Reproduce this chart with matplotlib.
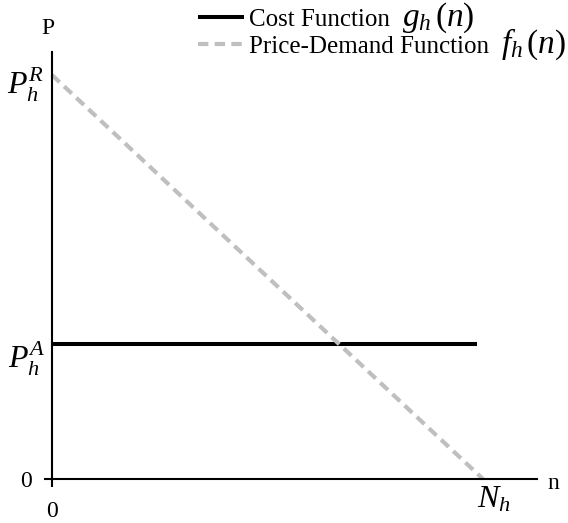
import matplotlib
matplotlib.use("Agg")
import matplotlib.pyplot as plt
from matplotlib.transforms import IdentityTransform

# ---- data ----
demand_n = [0.0, 1.0]      # from n = 0 to N_h
demand_p = [1.0, 0.0]      # from P_h^R down to 0
cost_n = [0.0, 0.986]
cost_p = [0.334, 0.334]    # P_h^A
n_axis_end = 1.125
p_axis_end = 1.057
legend_text = ['Cost Function', 'Price-Demand Function']
legend_math = [r'$g_h\,(n)$', r'$f_h\,(n)$']

plt.rcParams['font.family'] = ['Liberation Serif', 'DejaVu Serif']
plt.rcParams['mathtext.fontset'] = 'custom'
plt.rcParams['mathtext.rm'] = 'Liberation Serif'
plt.rcParams['mathtext.it'] = 'Liberation Serif:italic'

fig = plt.figure(figsize=(5.68, 5.23), dpi=100)
ax = fig.add_axes([0, 0, 1, 1])
ax.set_xlim(-52 / 431, 516 / 431)
ax.set_ylim(-44 / 404, 479 / 404)

cost_line, = ax.plot(cost_n, cost_p, color='black', lw=2.9, solid_capstyle='butt',
                     label=legend_text[0])
dem_line, = ax.plot(demand_n, demand_p, color='#BFBFBF', lw=3.0, dashes=(2.5, 1.5),
                    label=legend_text[1])

for s in ['top', 'right']:
    ax.spines[s].set_visible(False)
ax.spines['left'].set_position(('data', 0))
ax.spines['bottom'].set_position(('data', 0))
ax.spines['left'].set_bounds(0, p_axis_end)
ax.spines['bottom'].set_bounds(0, n_axis_end)
ax.spines['left'].set_linewidth(1.5)
ax.spines['bottom'].set_linewidth(1.5)

ax.set_xticks([0])
ax.set_yticks([0])
ax.set_xticklabels(['0'])
ax.set_yticklabels(['0'])
ax.tick_params(axis='both', which='major', direction='out', length=5.5, width=1.5,
               labelsize=17, left=True, bottom=True, color='black')
ax.tick_params(axis='y', pad=9)
ax.tick_params(axis='x', pad=10)

ax.annotate('P', xy=(0, p_axis_end), xytext=(-3, 17), textcoords='offset points',
            ha='center', va='center', fontsize=17)
ax.annotate('n', xy=(n_axis_end, 0), xytext=(12, -3), textcoords='offset points',
            ha='center', va='center', fontsize=17)
ax.annotate(r'$P_h^R$', xy=(0, demand_p[0]), xytext=(-6, -7), textcoords='offset points',
            ha='right', va='center', fontsize=23)
ax.annotate(r'$P_h^A$', xy=(0, cost_p[0]), xytext=(-5, -11), textcoords='offset points',
            ha='right', va='center', fontsize=23)
ax.annotate(r'$N_h$', xy=(demand_n[1], 0), xytext=(-4, -4), textcoords='offset points',
            ha='left', va='top', fontsize=23)

leg = ax.legend(handles=[cost_line, dem_line], loc='upper left',
                bbox_to_anchor=(198 / 568, 1 - 8 / 523), frameon=False,
                fontsize=18, handlelength=1.85, handletextpad=0.2,
                labelspacing=0.2, borderpad=0.0, borderaxespad=0.0)

fig.canvas.draw()
renderer = fig.canvas.get_renderer()
for t, m in zip(leg.get_texts(), legend_math):
    bb = t.get_window_extent(renderer)
    _, _, d = renderer.get_text_width_height_descent('lp', t.get_fontproperties(), ismath=False)
    fig.text(bb.x1 + 12, bb.y0 + d, m, transform=IdentityTransform(),
             ha='left', va='baseline', fontsize=24)

fig.savefig('out.png', dpi=100)
